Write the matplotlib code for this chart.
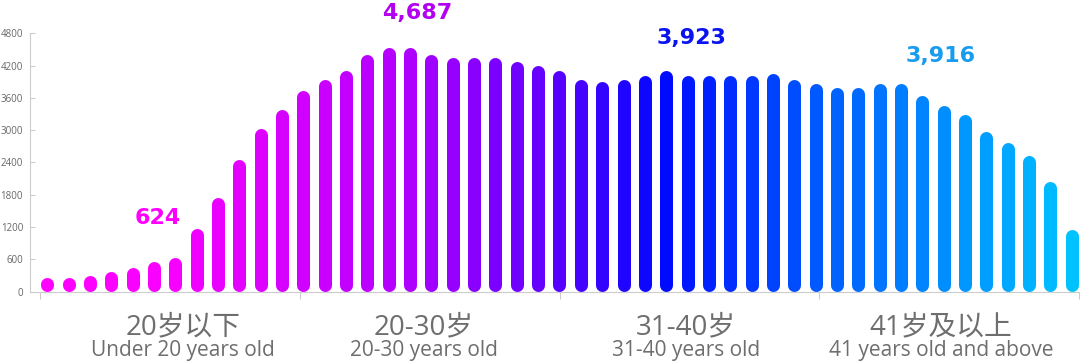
import numpy as np
import matplotlib
matplotlib.use("Agg")
import matplotlib.pyplot as plt
from matplotlib.colors import LinearSegmentedColormap

# bar heights, left to right (49 bars)
values = [268, 268, 305, 372, 453, 565, 626, 1165, 1747, 2447, 3029, 3389,
          3735, 3946, 4113, 4410, 4534, 4534, 4410, 4348, 4348, 4348, 4268,
          4193, 4106, 3933, 3902, 3933, 4008, 4106, 4008, 4008, 4008, 4008,
          4058, 3946, 3859, 3797, 3797, 3859, 3859, 3636, 3463, 3283, 2973,
          2776, 2521, 2044, 1159]

groups_cn = ["20岁以下", "20-30岁", "31-40岁", "41岁及以上"]
groups_en = ["Under 20 years old", "20-30 years old", "31-40 years old",
             "41 years old and above"]

callouts = ["624", "4,687", "3,923", "3,916"]
callout_x = [5.18, 17.35, 30.19, 41.88]
callout_y = [1249, 5060, 4601, 4261]
callout_col = ["#ff00ff", "#b400f0", "#0a14f0", "#189cf0"]

yticks = [0, 600, 1200, 1800, 2400, 3000, 3600, 4200, 4800]

grad = LinearSegmentedColormap.from_list("agegrad", [
    (0.0, "#ff00ff"), (0.12, "#f800ff"), (0.35, "#b000ff"), (0.5, "#5800ff"),
    (0.6, "#0008ff"), (0.75, "#0058ff"), (1.0, "#00c2ff")])

fig = plt.figure(figsize=(10.8, 3.62), dpi=100)
ax = fig.add_axes([30 / 1080, 70.5 / 362, 1050 / 1080, 258.2 / 362])
ax.set_xlim(-0.81, 48.39)
ax.set_ylim(0, 4800)

# round-capped bars: shorten the segment by the cap radius
lw_px = 13
r = (lw_px / 2) * 4800 / 258.2
n = len(values)
for i, v in enumerate(values):
    ax.plot([i, i], [r, v - r], color=grad(i / (n - 1)), lw=lw_px * 0.72,
            solid_capstyle="round", zorder=3)

for s in ["top", "right"]:
    ax.spines[s].set_visible(False)
for s in ["left", "bottom"]:
    ax.spines[s].set_color("#cccccc")
    ax.spines[s].set_linewidth(0.8)

ax.set_yticks(yticks)
ax.set_yticklabels([str(t) for t in yticks], fontsize=7, color="#666666",
                   family="Open Sans")
ax.tick_params(axis="y", direction="in", length=3.6, color="#cccccc", pad=5)
ax.set_xticks([])

# category axis with 4 groups
ax2 = ax.twiny()
ax2.set_xlim(-0.0385, 4.0038)
ax2.xaxis.set_ticks_position("bottom")
ax2.set_xticks([0, 1, 2, 3, 4])
ax2.set_xticklabels([])
ax2.tick_params(axis="x", direction="out", length=5, color="#cccccc")
for s in ax2.spines.values():
    s.set_visible(False)

label_pos = [0.55, 1.478, 2.487, 3.469]
fam = ["Open Sans", "Noto Sans CJK SC"]
for xp, cn, en in zip(label_pos, groups_cn, groups_en):
    ax2.annotate(cn, (xp, -0.164), xycoords=("data", "axes fraction"),
                 ha="center", va="baseline", fontsize=20, color="#6e6e6e",
                 family=fam, annotation_clip=False)
    ax2.annotate(en, (xp, -0.251), xycoords=("data", "axes fraction"),
                 ha="center", va="baseline", fontsize=15, color="#6e6e6e",
                 family=fam, annotation_clip=False)

for t, x, y, c in zip(callouts, callout_x, callout_y, callout_col):
    ax.text(x, y, t, ha="center", va="baseline", fontsize=16,
            fontweight="bold", color=c, family="DejaVu Sans", clip_on=False)

fig.savefig("out.png", dpi=100)
